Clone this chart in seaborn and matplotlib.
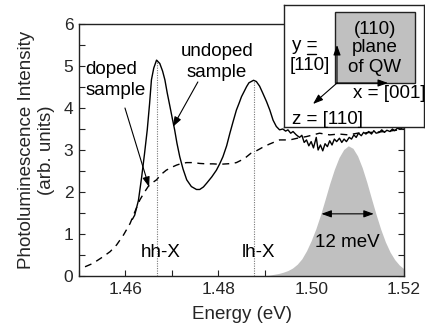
import numpy as np
import pandas as pd
import matplotlib
matplotlib.use("Agg")
import matplotlib.pyplot as plt
import seaborn as sns
from matplotlib.patches import Rectangle

# ---------------- data ----------------
undoped_E = [1.4615, 1.4620, 1.4628, 1.4635, 1.4641, 1.4647, 1.4652, 1.4656, 1.4661, 1.4667,
             1.4674, 1.4680, 1.4685, 1.4690, 1.4696, 1.4701, 1.4706, 1.4711, 1.4717, 1.4724,
             1.4732, 1.4742, 1.4753, 1.4760, 1.4768, 1.4775, 1.4786, 1.4796, 1.4803, 1.4810,
             1.4818, 1.4825, 1.4832, 1.4839, 1.4845, 1.4850, 1.4856, 1.4861, 1.4866, 1.4871,
             1.4876, 1.4882, 1.4889, 1.4896, 1.4904, 1.4911, 1.4918, 1.4925, 1.4932, 1.4939,
             1.4945, 1.4950, 1.4956, 1.4961, 1.4968, 1.4975, 1.4980, 1.4985, 1.4990, 1.4995,
             1.5000, 1.5005, 1.5011, 1.5015, 1.5020, 1.5025, 1.5030, 1.5035, 1.5040, 1.5045,
             1.5050, 1.5055, 1.5061, 1.5066, 1.5071, 1.5076, 1.5082, 1.5087, 1.5092, 1.5097,
             1.5102, 1.5108, 1.5113, 1.5118, 1.5124, 1.5130, 1.5135, 1.5140, 1.5147, 1.5152,
             1.5158, 1.5163, 1.5170, 1.5175, 1.5180, 1.5186, 1.5192, 1.5200]
undoped_I = [1.35, 1.45, 1.80, 2.36, 2.90, 3.48, 4.10, 4.67, 4.95, 5.14,
             5.06, 4.88, 4.67, 4.36, 4.03, 3.75, 3.48, 3.16, 2.84, 2.55,
             2.29, 2.13, 2.06, 2.06, 2.12, 2.21, 2.36, 2.52, 2.67, 2.84,
             3.10, 3.40, 3.68, 3.95, 4.12, 4.27, 4.40, 4.51, 4.60, 4.63,
             4.66, 4.63, 4.52, 4.35, 4.15, 3.95, 3.71, 3.56, 3.48, 3.50,
             3.45, 3.48, 3.40, 3.44, 3.36, 3.30, 3.35, 3.18, 3.24, 3.10,
             3.20, 3.05, 3.30, 3.00, 3.12, 2.98, 3.15, 3.08, 3.22, 3.12,
             3.26, 3.20, 3.28, 3.18, 3.26, 3.20, 3.30, 3.26, 3.36, 3.30,
             3.40, 3.34, 3.42, 3.38, 3.44, 3.38, 3.46, 3.40, 3.42, 3.48,
             3.42, 3.47, 3.44, 3.50, 3.46, 3.52, 3.50, 3.55]

doped_E = [1.4513, 1.4530, 1.4552, 1.4567, 1.4581, 1.4596, 1.4610, 1.4620, 1.4631, 1.4640,
           1.4649, 1.4658, 1.4667, 1.4677, 1.4688, 1.4700, 1.4710, 1.4721, 1.4732, 1.4746,
           1.4760, 1.4775, 1.4789, 1.4803, 1.4818, 1.4830, 1.4839, 1.4850, 1.4860, 1.4870,
           1.4882, 1.4895, 1.4910, 1.4932, 1.4954, 1.4970, 1.4990, 1.5018, 1.5040, 1.5060,
           1.5080, 1.5100, 1.5130, 1.5160, 1.5190, 1.5200]
doped_I = [0.22, 0.30, 0.46, 0.58, 0.74, 0.98, 1.25, 1.52, 1.81, 1.98,
           2.13, 2.22, 2.29, 2.42, 2.52, 2.59, 2.64, 2.68, 2.70, 2.70,
           2.68, 2.67, 2.67, 2.66, 2.67, 2.68, 2.70, 2.76, 2.83, 2.92,
           2.98, 3.06, 3.14, 3.24, 3.24, 3.28, 3.32, 3.40, 3.36, 3.38,
           3.36, 3.40, 3.42, 3.44, 3.48, 3.50]

laser_E = [1.489, 1.490, 1.491, 1.492, 1.493, 1.494, 1.495, 1.496, 1.497, 1.498,
           1.499, 1.500, 1.501, 1.502, 1.503, 1.504, 1.505, 1.506, 1.507, 1.508,
           1.509, 1.510, 1.511, 1.512, 1.513, 1.514, 1.515, 1.516, 1.517, 1.518,
           1.519, 1.520]
laser_I = [0.00, 0.01, 0.02, 0.04, 0.06, 0.09, 0.13, 0.19, 0.28, 0.41,
           0.60, 0.84, 1.12, 1.45, 1.82, 2.20, 2.54, 2.82, 3.01, 3.10,
           3.04, 2.86, 2.58, 2.23, 1.84, 1.46, 1.11, 0.81, 0.57, 0.39,
           0.26, 0.17]

exciton_E = [1.4668, 1.4876]
exciton_peak = [5.14, 4.66]
exciton_labels = ["hh-X", "lh-X"]

fwhm_span = [1.5022, 1.5135]
fwhm_level = 1.48
fwhm_label = "12 meV"

x_ticks = [1.46, 1.48, 1.50, 1.52]
x_ticklabels = ["1.46", "1.48", "1.50", "1.52"]
y_ticks = [0, 1, 2, 3, 4, 5, 6]

# ---------------- style ----------------
sns.set_theme(style="ticks")
plt.rcParams["font.family"] = ["Liberation Sans", "DejaVu Sans"]

W, H = 425, 328
fig = plt.figure(figsize=(W / 100, H / 100), dpi=100)
ax = fig.add_axes([79 / W, (H - 276) / H, (404 - 79) / W, (276 - 24) / H])

df_u = pd.DataFrame({"E": undoped_E, "I": undoped_I})
df_d = pd.DataFrame({"E": doped_E, "I": doped_I})

ax.fill_between(laser_E, laser_I, 0, color="#c0c0c0", lw=0, zorder=1)
sns.lineplot(data=df_d, x="E", y="I", ax=ax, color="black", lw=1.0, sort=False,
             zorder=3)
ax.lines[-1].set_dashes([5, 4])
sns.lineplot(data=df_u, x="E", y="I", ax=ax, color="black", lw=1.0, sort=False, zorder=3)

ax.vlines(exciton_E, 0, exciton_peak, colors="#777777", linestyles=(0, (1, 1.2)), lw=0.8, zorder=2)

ax.set_xlim(1.45, 1.52)
ax.set_ylim(0, 6)
ax.set_xticks(x_ticks)
ax.set_xticklabels(x_ticklabels)
ax.set_xticks(np.arange(1.45, 1.5201, 0.01), minor=True)
ax.set_yticks(y_ticks)
ax.set_yticks(np.arange(0, 6.01, 0.5), minor=True)
ax.tick_params(axis="both", which="both", direction="in", length=4, width=0.8,
               labelsize=12.5, pad=4, color="#222222")
ax.tick_params(axis="y", which="both", right=True)
ax.tick_params(axis="x", which="both", top=False)
for s in ax.spines.values():
    s.set_linewidth(1.0)
    s.set_color("#222222")

ax.set_xlabel("Energy (eV)", fontsize=13.5, labelpad=7)
ax.set_ylabel("Photoluminescence Intensity\n(arb. units)", fontsize=13.5,
              labelpad=6, linespacing=1.25)

txt = dict(fontsize=13.5, color="black", linespacing=1.3)
ax.text(1.4513, 4.67, "doped\nsample", ha="left", va="center", **txt)
ax.text(1.4797, 5.10, "undoped\nsample", ha="center", va="center", **txt)
arr = dict(arrowstyle="-|>,head_length=0.5,head_width=0.18", color="black", lw=0.8,
           shrinkA=0, shrinkB=0)
ax.annotate("", xy=(1.4651, 2.12), xytext=(1.4599, 4.0), arrowprops=arr)
ax.annotate("", xy=(1.4702, 3.55), xytext=(1.4756, 4.62), arrowprops=arr)

ax.text(1.4676, 0.57, exciton_labels[0], ha="center", va="center", **txt)
ax.text(1.4887, 0.57, exciton_labels[1], ha="center", va="center", **txt)

ax.annotate("", xy=(fwhm_span[0], fwhm_level), xytext=(fwhm_span[1], fwhm_level),
            arrowprops=dict(arrowstyle="<|-|>,head_length=0.5,head_width=0.18",
                            color="black", lw=0.8, shrinkA=0, shrinkB=0))
ax.text(sum(fwhm_span) / 2, 0.79, fwhm_label, ha="center", va="center", **txt)

# ---------------- inset schematic ----------------
ins = fig.add_axes([284 / W, (H - 127) / H, (424 - 284) / W, (127 - 5) / H])
ins.set_xlim(284, 424)
ins.set_ylim(127, 5)
ins.set_xticks([])
ins.set_yticks([])
ins.set_facecolor("white")
for s in ins.spines.values():
    s.set_linewidth(1.0)
    s.set_color("#222222")
ins.add_patch(Rectangle((335, 12), 80, 71, facecolor="#c0c0c0", edgecolor="#222222", lw=1.0))
itxt = dict(fontsize=13.5, color="black")
ins.text(375, 29, "(110)", ha="center", va="center", **itxt)
ins.text(375, 48, "plane", ha="center", va="center", **itxt)
ins.text(375, 67, "of QW", ha="center", va="center", **itxt)
ins.text(305, 46, "y =", ha="center", va="center", **itxt)
ins.text(310, 66, "[110]", ha="center", va="center", **itxt)
ins.plot([307, 316], [54, 54], color="black", lw=1.0)
ins.text(389, 94, "x = [001]", ha="center", va="center", **itxt)
ins.text(328, 120, "z = [110]", ha="center", va="center", **itxt)
iarr = dict(arrowstyle="-|>,head_length=0.5,head_width=0.18", color="black", lw=0.8,
            shrinkA=0, shrinkB=0)
ins.annotate("", xy=(337, 45), xytext=(337, 83), arrowprops=iarr)
ins.annotate("", xy=(388, 83), xytext=(337, 83), arrowprops=iarr)
ins.annotate("", xy=(313, 104), xytext=(337, 83), arrowprops=iarr)

fig.savefig("out.png", dpi=100)
